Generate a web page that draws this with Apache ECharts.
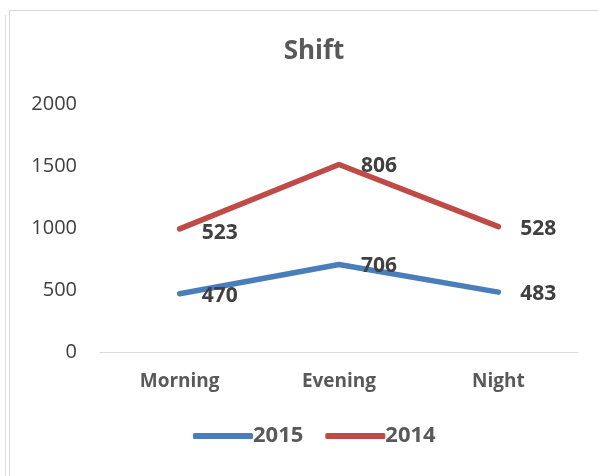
<!DOCTYPE html>
<html>
<head>
<meta charset="utf-8">
<script src="https://cdn.jsdelivr.net/npm/echarts@6/dist/echarts.min.js"></script>
<style>
    html, body { margin: 0; padding: 0; background: #fff; }
    #chart { width: 598px; height: 476px; }
</style>
</head>
<body>
<div id="chart"></div>
<script>
// data
var shifts = ["Morning", "Evening", "Night"]
var values2015 = [470, 706, 483]
var values2014 = [523, 806, 528]
var yTicks = [0, 500, 1000, 1500, 2000]

var textFont = "'Open Sans', sans-serif"

var myChart = echarts.init(document.getElementById("chart"), null, { renderer: "canvas" })

function makeSerie(name, values, color) {
    return {
        name: name,
        type: "line",
        stack: "total",
        data: values,
        showSymbol: true,
        symbol: "circle",
        symbolSize: 0,
        animation: false,
        lineStyle: {
            width: 5.5,
            color: color,
            cap: "round",
            join: "round",
        },
        itemStyle: { color: color },
        label: {
            show: true,
            position: "right",
            distance: 22,
            offset: [0, 2],
            color: "#404040",
            fontSize: 21,
            fontWeight: "bold",
            fontFamily: textFont,
        },
    }
}

var serie2014 = makeSerie("2014", values2014, "#BE4B48")
// Morning label of 2014 sits a bit lower in the reference
serie2014.data = values2014.map((v, i) => i === 0 ? { value: v, label: { offset: [0, 4] } } : v)

var option = {
    backgroundColor: "#fff",
    title: {
        text: "Shift",
        left: 309,
        textAlign: "center",
        top: 34,
        textStyle: {
            color: "#595959",
            fontSize: 26,
            fontWeight: "bold",
            fontFamily: textFont,
        },
    },
    graphic: [
        // frame of the chart area
        { type: "line", shape: { x1: 9, y1: 10.5, x2: 598, y2: 10.5 }, style: { stroke: "#d9d9d9", lineWidth: 1 } },
        { type: "line", shape: { x1: 9.5, y1: 10, x2: 9.5, y2: 476 }, style: { stroke: "#d9d9d9", lineWidth: 1 } },
        { type: "line", shape: { x1: 5.5, y1: 15, x2: 5.5, y2: 476 }, style: { stroke: "#e0e0e0", lineWidth: 1 } },
    ],
    legend: {
        bottom: 24,
        left: 188,
        itemWidth: 60,
        itemHeight: 6,
        itemGap: 22,
        icon: "roundRect",
        textStyle: {
            color: "#595959",
            fontSize: 22,
            fontWeight: "bold",
            fontFamily: textFont,
            padding: [0, 0, 0, -5],
        },
        data: ["2015", "2014"],
    },
    grid: {
        left: 100,
        right: 20,
        top: 104,
        bottom: 124,
        containLabel: false,
    },
    xAxis: {
        type: "category",
        data: shifts,
        boundaryGap: true,
        axisLine: { lineStyle: { color: "#d9d9d9", width: 1 } },
        axisTick: { show: false },
        axisLabel: {
            color: "#595959",
            fontSize: 19,
            fontWeight: "bold",
            fontFamily: textFont,
            margin: 20,
        },
    },
    yAxis: {
        type: "value",
        min: yTicks[0],
        max: yTicks[yTicks.length - 1],
        interval: yTicks[1] - yTicks[0],
        axisLine: { show: false },
        axisTick: { show: false },
        splitLine: { show: false },
        axisLabel: {
            color: "#404040",
            fontSize: 20,
            fontFamily: textFont,
            margin: 23,
            formatter: v => String(v),
        },
    },
    series: [
        makeSerie("2015", values2015, "#4A7EBB"),
        serie2014,
    ],
}

myChart.setOption(option, true)
</script>
</body>
</html>
